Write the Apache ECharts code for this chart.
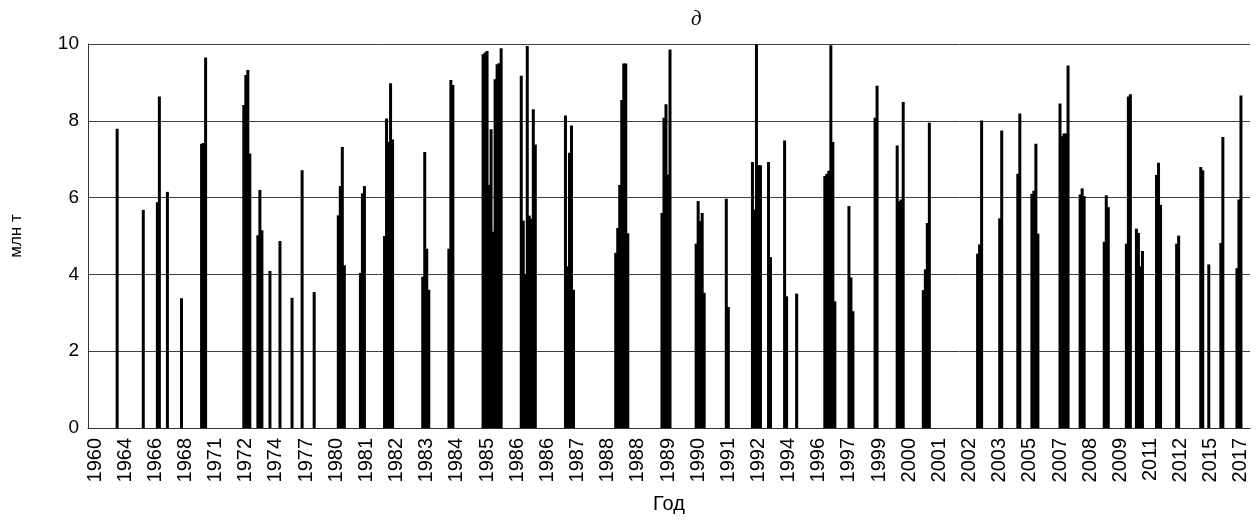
<!DOCTYPE html>
<html>
<head>
<meta charset="utf-8">
<script src="https://cdn.jsdelivr.net/npm/echarts@6/dist/echarts.min.js"></script>
<style>
  html, body { margin: 0; padding: 0; background: #fff; }
  #chart { width: 1260px; height: 523px; }
</style>
</head>
<body>
<div id="chart"></div>
<script>
// подписи оси X: каждая 15-я категория, начиная с 3-й
const tickLabels = ['1960', '1964', '1966', '1968', '1971', '1972', '1974', '1977', '1980', '1981',
  '1982', '1983', '1984', '1985', '1986', '1986', '1987', '1988', '1988', '1989',
  '1990', '1991', '1992', '1994', '1996', '1997', '1999', '2000', '2001', '2002',
  '2003', '2005', '2007', '2008', '2009', '2011', '2012', '2015', '2017']
const categoryCount = 578
const labelStart = 3
const labelStep = 15

// группы столбцов: номер первой категории и значения подряд (млн т)
const clusterStart = [14, 27, 34, 39, 46, 56, 77, 84, 90, 95, 101, 106, 112, 124, 135, 147, 166, 179,
  196, 215, 237, 262, 285, 302, 317, 330, 338, 346, 352, 366, 378, 391, 402, 415, 442, 453, 462,
  469, 483, 493, 505, 516, 521, 531, 541, 553, 557, 563, 571]
const clusterValues = [
  [7.79], [5.68], [5.88, 8.63], [6.15], [3.38], [7.4, 7.42, 9.65],
  [8.41, 9.19, 9.32, 7.15], [5.02, 6.2, 5.15], [4.09], [4.87], [3.39], [6.71], [3.54],
  [5.54, 6.3, 7.32, 4.24], [4.04, 6.11, 6.3], [5.0, 8.06, 7.45, 8.98, 7.51],
  [3.94, 7.19, 4.67, 3.6], [4.67, 9.06, 8.93],
  [9.73, 9.78, 9.82, 6.33, 7.78, 5.11, 9.08, 9.47, 9.5, 9.89],
  [9.17, 5.4, 4.0, 9.95, 5.53, 5.45, 8.3, 7.38],
  [8.14, 4.21, 7.17, 7.88, 3.6], [4.56, 5.21, 6.33, 8.54, 9.49, 9.49, 5.07],
  [5.6, 8.08, 8.43, 6.6, 9.86], [4.8, 5.91, 5.39, 5.6, 3.52], [5.97, 3.15],
  [6.93, 5.69, 9.99, 6.84, 6.84], [6.93, 4.45], [7.49, 3.43], [3.5],
  [6.56, 6.62, 6.7, 9.97, 7.45, 3.3], [5.78, 3.92, 3.04], [8.08, 8.91],
  [7.36, 5.91, 5.95, 8.49], [3.59, 4.13, 5.34, 7.95], [4.54, 4.78, 8.01], [5.46, 7.75],
  [6.62, 8.19], [6.1, 6.18, 7.4, 5.06], [8.45, 7.6, 7.67, 7.67, 9.44], [6.08, 6.24, 6.04],
  [4.85, 6.06, 5.75], [4.8, 8.63, 8.69], [5.19, 5.08, 4.21, 4.61], [6.59, 6.91, 5.81],
  [4.8, 5.01], [6.8, 6.71], [4.26], [4.82, 7.58], [4.16, 5.95, 8.66]
]

const categories = Array.from({ length: categoryCount }, (_, i) => String(i))
const values = new Array(categoryCount).fill(null)
clusterStart.forEach((s, k) => {
  clusterValues[k].forEach((v, j) => { values[s + j] = v })
})

function labelFor(i) {
  if (i < labelStart || (i - labelStart) % labelStep) return null
  const t = tickLabels[(i - labelStart) / labelStep]
  return t === undefined ? null : t
}

const font = "'Liberation Sans', Arial, sans-serif"
const chart = echarts.init(document.getElementById('chart'))
chart.setOption({
  animation: false,
  title: {
    text: 'д',
    left: 686,
    top: 4,
    textStyle: { fontFamily: "'Liberation Serif', serif", fontStyle: 'italic', fontWeight: 'normal', fontSize: 21, color: '#000' }
  },
  grid: { left: 87, right: 10, top: 44, bottom: 95 },
  xAxis: {
    type: 'category',
    data: categories,
    name: 'Год',
    nameLocation: 'middle',
    nameGap: 66,
    nameTextStyle: { fontFamily: font, fontSize: 20, color: '#000' },
    axisLine: { lineStyle: { color: '#333', width: 1 } },
    axisTick: { show: false },
    axisLabel: {
      interval: (i) => labelFor(i) !== null,
      formatter: (v, i) => labelFor(i) || '',
      rotate: 90,
      margin: 10,
      fontFamily: font,
      fontSize: 20,
      color: '#000'
    },
    splitLine: { show: false }
  },
  yAxis: {
    type: 'value',
    min: 0,
    max: 10,
    interval: 2,
    name: 'млн т',
    nameLocation: 'middle',
    nameGap: 63,
    nameRotate: 90,
    nameTextStyle: { fontFamily: font, fontSize: 17, color: '#000' },
    axisLine: { show: true, lineStyle: { color: '#333', width: 1 } },
    axisTick: { show: false },
    axisLabel: { margin: 9, fontFamily: font, fontSize: 19, color: '#000' },
    splitLine: { lineStyle: { color: '#404040', width: 1 } }
  },
  series: [
    {
      type: 'bar',
      data: values,
      barWidth: 3,
      itemStyle: { color: '#000' }
    }
  ]
})
</script>
</body>
</html>
